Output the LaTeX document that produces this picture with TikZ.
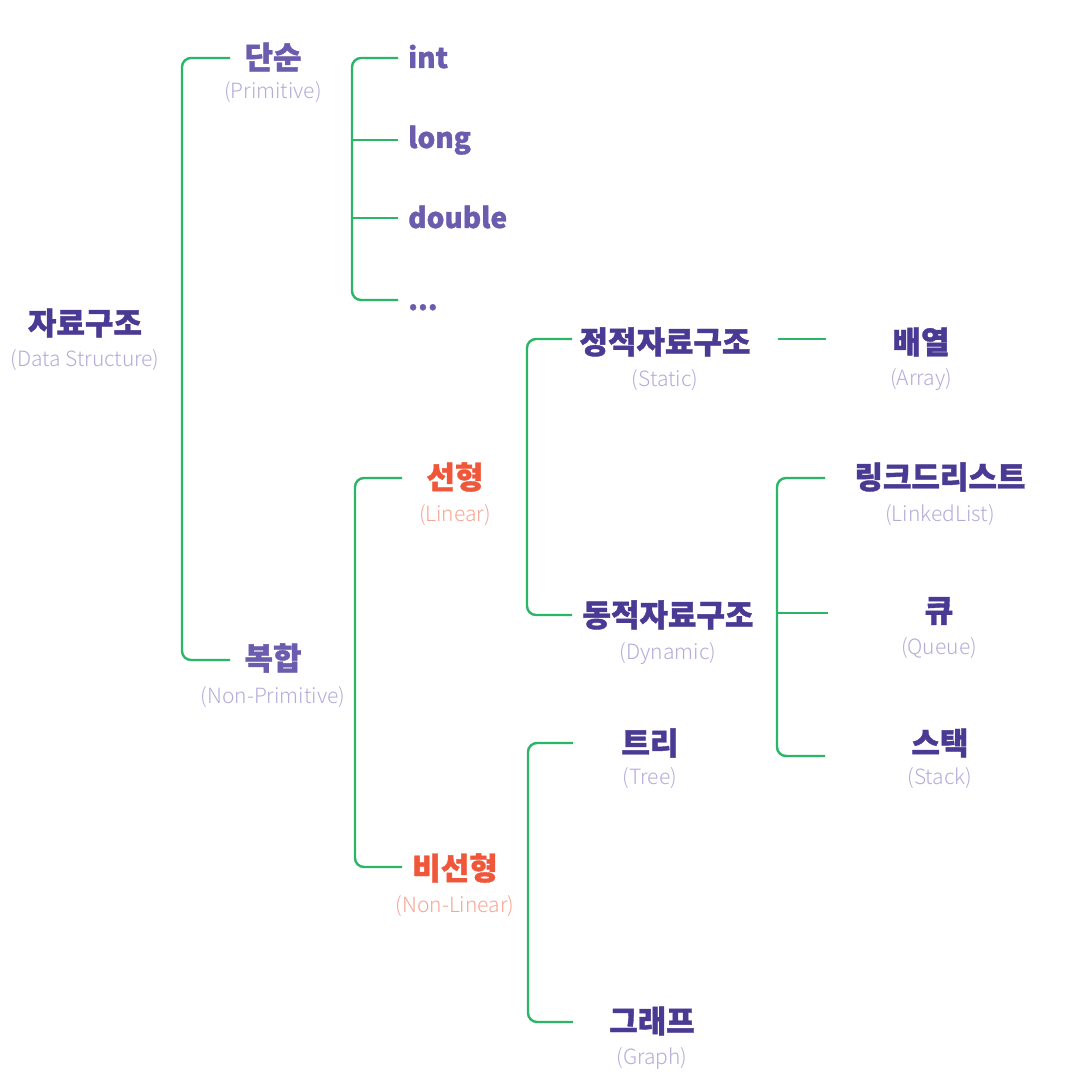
\documentclass[tikz,border=0pt]{standalone}
\usepackage{fontspec}
\newfontfamily\kr{Noto Sans CJK KR Black}[FakeBold=1.2]
\newfontfamily\krl{Noto Sans CJK KR Light}
\definecolor{dkp}{HTML}{4A3A93}
\definecolor{mdp}{HTML}{6B5CAE}
\definecolor{lav}{HTML}{B3ACD9}
\definecolor{rd}{HTML}{F0573A}
\definecolor{sal}{HTML}{F7A593}
\definecolor{grn}{HTML}{2BB667}
\tikzset{
  ttl/.style={font=\kr\fontsize{31}{34}\selectfont, text=dkp, inner sep=0pt},
  ttm/.style={ttl, text=mdp},
  ttr/.style={ttl, text=rd},
  sub/.style={font=\krl\fontsize{21}{24}\selectfont, text=lav, inner sep=0pt},
  subr/.style={sub, text=sal},
  br/.style={draw=grn, line width=2.4pt, rounded corners=9pt},
  lf/.style={ttm, font=\kr\fontsize{28}{30}\selectfont, anchor=base west}
}
\begin{document}
\begin{tikzpicture}[x=1pt,y=-1pt]
\useasboundingbox (0,0) rectangle (1065,1083);
% nodes
\node[ttl] (root) at (85,323) {자료구조};
\node[sub] (rootS) at (85,360) {(Data Structure)};
\node[ttm] (dan) at (273,57) {단순};
\node[sub] (danS) at (273,92) {(Primitive)};
\node[ttm] (bok) at (273,658) {복합};
\node[sub] (bokS) at (273,697) {(Non-Primitive)};
\node[lf] (int) at (408,68) {int};
\node[lf] (long) at (408,148) {long};
\node[lf] (dbl) at (408,228) {double};
\node[lf] (dots) at (408,310) {...};
\node[ttr] (lin) at (455,477) {선형};
\node[subr] (linS) at (455,515) {(Linear)};
\node[ttr] (nlin) at (455,868) {비선형};
\node[subr] (nlinS) at (455,906) {(Non-Linear)};
\node[ttl] (sta) at (665,342) {정적자료구조};
\node[sub] (staS) at (665,380) {(Static)};
\node[ttl] (dyn) at (668,615) {동적자료구조};
\node[sub] (dynS) at (668,654) {(Dynamic)};
\node[ttl] (arr) at (921,342) {배열};
\node[sub] (arrS) at (921,380) {(Array)};
\node[ttl] (ll) at (940,477) {링크드리스트};
\node[sub] (llS) at (940,515) {(LinkedList)};
\node[ttl] (que) at (939,611) {큐};
\node[sub] (queS) at (939,648) {(Queue)};
\node[ttl] (stk) at (940,743) {스택};
\node[sub] (stkS) at (940,778) {(Stack)};
\node[ttl] (tree) at (650,743) {트리};
\node[sub] (treeS) at (650,778) {(Tree)};
\node[ttl] (gra) at (652,1021) {그래프};
\node[sub] (graS) at (652,1058) {(Graph)};
% connector ends
\coordinate (rA) at (230,58);
\coordinate (rB) at (230,660);
\coordinate (rS) at (182,360);
\draw[br] (rA) -| (rS) |- (rB);
\coordinate (pA) at (398,58);
\coordinate (pB) at (398,140);
\coordinate (pC) at (398,218);
\coordinate (pD) at (398,300);
\coordinate (pS) at (352,200);
\draw[br] (pA) -| (pS) |- (pD);
\draw[br] (pS |- pB) -- (pB);
\draw[br] (pS |- pC) -- (pC);
\coordinate (cA) at (402,478);
\coordinate (cB) at (402,867);
\coordinate (cS) at (355,700);
\draw[br] (cA) -| (cS) |- (cB);
\coordinate (lA) at (572,339);
\coordinate (lB) at (572,615);
\coordinate (lS) at (527,500);
\draw[br] (lA) -| (lS) |- (lB);
\coordinate (sA) at (778,339);
\coordinate (sB) at (826,339);
\draw[br] (sA) -- (sB);
\coordinate (dA) at (825,478);
\coordinate (dB) at (828,613);
\coordinate (dC) at (825,756);
\coordinate (dS) at (777,600);
\draw[br] (dA) -| (dS) |- (dC);
\draw[br] (dS |- dB) -- (dB);
\coordinate (nA) at (573,743);
\coordinate (nB) at (573,1022);
\coordinate (nS) at (528,900);
\draw[br] (nA) -| (nS) |- (nB);
\end{tikzpicture}
\end{document}
